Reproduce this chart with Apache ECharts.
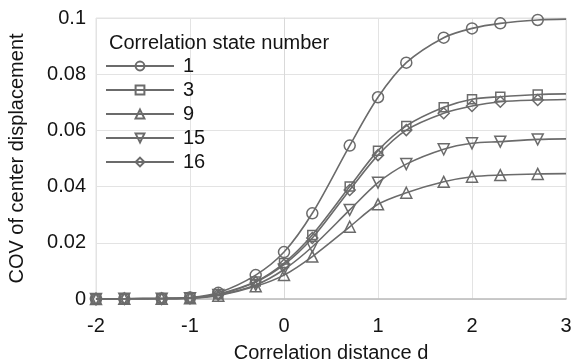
<!DOCTYPE html>
<html>
<head>
<meta charset="utf-8">
<script src="https://cdn.jsdelivr.net/npm/echarts@6/dist/echarts.min.js"></script>
<style>
  html, body { margin: 0; padding: 0; background: #fff; }
  #chart { width: 571px; height: 362px; }
</style>
</head>
<body>
<div id="chart"></div>
<script>
// x positions are log10 of the correlation distance
const xValues = [-2, -1.699, -1.301, -1, -0.699, -0.301, 0, 0.301, 0.699, 1, 1.301, 1.699, 2, 2.301, 2.699, 3];

const cov1 = [0, 0.0001, 0.0002, 0.0005, 0.0022, 0.0085, 0.0167, 0.0305, 0.0546, 0.0718, 0.0841, 0.0930, 0.0963, 0.0981, 0.0993, 0.0996];
const cov3 = [0, 0.0001, 0.0002, 0.0004, 0.0017, 0.0062, 0.0128, 0.0228, 0.0400, 0.0528, 0.0616, 0.0682, 0.0711, 0.0720, 0.0728, 0.0730];
const cov9 = [0, 0.0001, 0.0001, 0.0003, 0.0012, 0.0045, 0.0085, 0.0151, 0.0257, 0.0337, 0.0378, 0.0417, 0.0435, 0.0441, 0.0445, 0.0446];
const cov15 = [0, 0.0001, 0.0001, 0.0003, 0.0014, 0.0050, 0.0105, 0.0186, 0.0317, 0.0414, 0.0480, 0.0533, 0.0554, 0.0560, 0.0568, 0.0570];
const cov16 = [0, 0.0001, 0.0002, 0.0004, 0.0016, 0.0060, 0.0122, 0.0217, 0.0388, 0.0512, 0.0601, 0.0661, 0.0687, 0.0702, 0.0708, 0.0710];

const seriesNames = ["1", "3", "9", "15", "16"];
const seriesValues = [cov1, cov3, cov9, cov15, cov16];
const seriesSymbols = ["circle", "rect", "triangle", "triangle", "diamond"];
const seriesRotate = [0, 0, 0, 180, 0];

const LINE_COLOR = "#6b6b6b";
const TEXT_COLOR = "#141414";
const FONT = "Liberation Sans";
const FONT_SIZE = 20;

function buildSeries(i) {
  const values = seriesValues[i];
  return {
    name: seriesNames[i],
    type: "line",
    smooth: 0.3,
    symbol: seriesSymbols[i],
    symbolRotate: seriesRotate[i],
    symbolSize: seriesSymbols[i] === "rect" ? 9 : 11,
    lineStyle: { color: LINE_COLOR, width: 1.6 },
    itemStyle: { color: "rgba(255,255,255,0)", borderColor: LINE_COLOR, borderWidth: 1.5 },
    data: xValues.map((x, j) => {
      const point = { value: [x, values[j]] };
      if (j === xValues.length - 1) {
        point.symbol = "none";
      }
      return point;
    })
  };
}

const chart = echarts.init(document.getElementById("chart"));
chart.setOption({
  animation: false,
  textStyle: { fontFamily: FONT },
  grid: {
    left: 96, right: 5, top: 18, bottom: 63,
    outerBoundsMode: "none",
    containLabel: false,
    show: true, borderColor: "#e3e3e3", borderWidth: 1
  },
  title: {
    text: "Correlation state number",
    left: 104,
    top: 28,
    textStyle: { fontSize: FONT_SIZE, fontWeight: "normal", color: TEXT_COLOR, fontFamily: FONT }
  },
  legend: {
    left: 100,
    top: 51,
    orient: "vertical",
    itemWidth: 68,
    itemHeight: 11,
    itemGap: 4,
    data: seriesNames,
    textStyle: { fontSize: FONT_SIZE, color: TEXT_COLOR, fontFamily: FONT, padding: [0, 0, 0, 4] }
  },
  xAxis: {
    type: "value",
    min: -2,
    max: 3,
    interval: 1,
    name: "Correlation distance d",
    nameLocation: "middle",
    nameGap: 44,
    nameTextStyle: { fontSize: FONT_SIZE, color: TEXT_COLOR },
    axisLine: { lineStyle: { color: "#bdbdbd", width: 1.5 } },
    axisTick: { show: false },
    axisLabel: { fontSize: FONT_SIZE, color: TEXT_COLOR, margin: 17 },
    splitLine: { lineStyle: { color: "#e3e3e3" } }
  },
  yAxis: {
    type: "value",
    min: 0,
    max: 0.1,
    interval: 0.02,
    name: "COV of center displacement",
    nameLocation: "middle",
    nameGap: 69,
    nameTextStyle: { fontSize: FONT_SIZE, color: TEXT_COLOR },
    axisLine: { show: true, lineStyle: { color: "#d9d9d9" } },
    axisTick: { show: false },
    axisLabel: { fontSize: FONT_SIZE, color: TEXT_COLOR, margin: 10 },
    splitLine: { lineStyle: { color: "#e3e3e3" } }
  },
  series: seriesNames.map((_, i) => buildSeries(i))
});
</script>
</body>
</html>
